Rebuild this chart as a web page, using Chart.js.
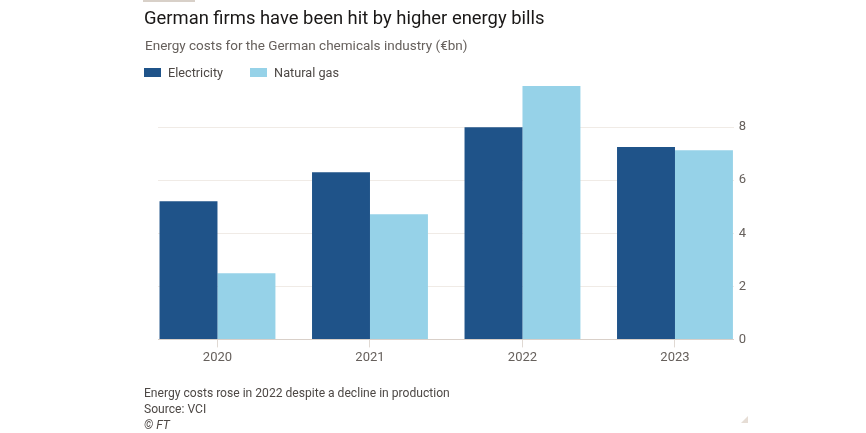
<!DOCTYPE html>
<html>
<head>
<meta charset="utf-8">
<script src="https://cdn.jsdelivr.net/npm/chart.js@4.4.1/dist/chart.umd.min.js"></script>
<style>
  body { margin: 0; background: #fff; font-family: Roboto, "Noto Sans", sans-serif; }
  #wrap { position: relative; width: 866px; height: 433px; overflow: hidden; }
  #chart { position: absolute; left: 0; top: 0; }
  .txt { position: absolute; white-space: nowrap; }
  #bar { position: absolute; left: 143px; top: 0; width: 52px; height: 2px; background: #d8d0c8; }
  #title { left: 144px; top: 7px; font-size: 18.4px; color: #1a1817; }
  #subtitle { left: 145px; top: 37px; font-size: 13.5px; color: #66605c; }
  #legend { left: 144px; top: 65px; font-size: 12.7px; color: #4d4845; }
  #legend span.sw { display: inline-block; width: 17px; height: 9px; margin-right: 7px; vertical-align: 0px; }
  #legend span.item { margin-right: 27px; }
  #foot { left: 144px; top: 385px; font-size: 12.1px; color: #4d4845; line-height: 16px; }
  #tri { position: absolute; left: 741px; top: 416px; width: 0; height: 0;
         border-left: 7px solid transparent; border-bottom: 7px solid #e6ddd5; }
</style>
</head>
<body>
<div id="wrap">
  <canvas id="chart" width="866" height="433"></canvas>
  <div id="bar"></div>
  <div class="txt" id="title">German firms have been hit by higher energy bills</div>
  <div class="txt" id="subtitle">Energy costs for the German chemicals industry (€bn)</div>
  <div class="txt" id="legend"></div>
  <div class="txt" id="foot">Energy costs rose in 2022 despite a decline in production<br>Source: VCI<br><i>© FT</i></div>
  <div id="tri"></div>
</div>
<script>
const years = [2020, 2021, 2022, 2023]
const electricity = [5.21, 6.3, 8.0, 7.25]
const naturalGas = [2.49, 4.72, 9.55, 7.13]
const yTicks = [0, 2, 4, 6, 8]
const seriesNames = ['Electricity', 'Natural gas']
const colors = ['#1f5389', '#96d2e8']

document.querySelector('#legend').innerHTML = seriesNames.map((n, i) =>
  '<span class="item"><span class="sw" style="background:' + colors[i] + '"></span>' + n + '</span>').join('')

const ctx = document.querySelector('#chart').getContext('2d')

new Chart(ctx, {
  type: 'bar',
  data: {
    datasets: [
      { label: seriesNames[0], data: years.map((y, i) => ({ x: y, y: electricity[i] })), backgroundColor: colors[0] },
      { label: seriesNames[1], data: years.map((y, i) => ({ x: y, y: naturalGas[i] })), backgroundColor: colors[1] }
    ]
  },
  options: {
    responsive: false,
    animation: false,
    layout: { padding: { left: 158, right: 115, top: 86, bottom: 64 } },
    datasets: { bar: { categoryPercentage: 0.76, barPercentage: 1 } },
    plugins: { legend: { display: false }, tooltip: { enabled: false } },
    scales: {
      x: {
        type: 'linear',
        min: years[0] - 0.39,
        max: years[years.length - 1] + 0.385,
        offset: false,
        afterBuildTicks: s => { s.ticks = years.map(v => ({ value: v })) },
        grid: { offset: false, drawOnChartArea: false, color: '#e0d9d3', tickLength: 8 },
        border: { display: true, color: '#d9d0c9' },
        ticks: { color: '#66605c', font: { family: 'Roboto', size: 13 }, padding: 3, callback: v => String(v) }
      },
      y: {
        position: 'right',
        min: 0,
        max: Math.max(...naturalGas, ...electricity),
        afterBuildTicks: s => { s.ticks = yTicks.map(v => ({ value: v })) },
        grid: { color: '#f0ebe6', drawTicks: false },
        border: { display: false },
        ticks: { color: '#66605c', font: { family: 'Roboto', size: 13 }, padding: 5 }
      }
    }
  }
})
</script>
</body>
</html>
